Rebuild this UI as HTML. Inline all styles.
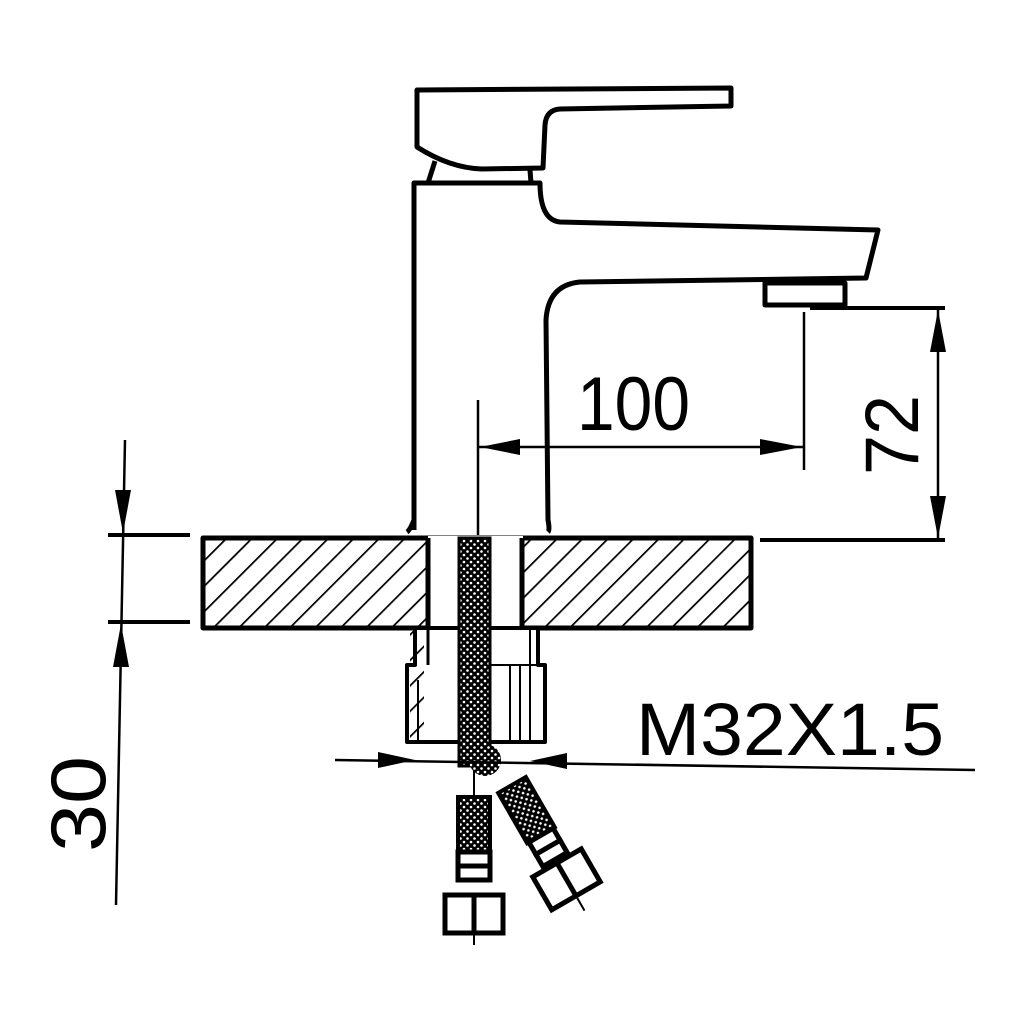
<!DOCTYPE html>
<html><head><style>html,body{margin:0;padding:0;background:#fff}svg{display:block}</style></head>
<body>
<svg width="1024" height="1024" viewBox="0 0 1024 1024" xmlns="http://www.w3.org/2000/svg">
<defs>
<pattern id="hatch" patternUnits="userSpaceOnUse" width="18" height="18" patternTransform="rotate(45)">
<line x1="0" y1="0" x2="0" y2="18" stroke="#000" stroke-width="3.5"/>
</pattern>
<pattern id="dots" patternUnits="userSpaceOnUse" width="7" height="7">
<rect width="7" height="7" fill="#000"/><circle cx="2" cy="2" r="1.3" fill="#fff"/><circle cx="5.5" cy="5.5" r="1.3" fill="#fff"/>
</pattern>
</defs>
<g fill="none" stroke="#000" stroke-width="5" stroke-linejoin="round">
<path d="M417,90 L731,88 L731,106 L560,109 Q546,110 545,125 L543,168 L482,169 Q450,168 417,147 Z" fill="#fff"/>
<path d="M428,183 L435,161 M530,170 L531,183"/>
<path d="M414,530 L414,183 L540,183 Q540,220 560,222 L878,230 L866,278 L580,282 Q548,285 546,320 L548,520 Q550,530 548,532"/>
<path d="M414,520 Q410,530 407,532"/>
<rect x="765" y="283" width="80" height="22" fill="#fff"/>
<rect x="203" y="538" width="548" height="90" fill="url(#hatch)"/>
<rect x="428" y="536" width="95" height="94" fill="#fff" stroke="none"/>
<path d="M428,538 L428,628 M522,538 L522,628"/>
<path d="M415,628 L415,665 L407,665 L407,742 L545,742 L545,665 L538,665 L538,628 Z" fill="#fff" stroke-width="4"/>
<path d="M428,628 L428,665" stroke-width="3"/>
<rect x="410" y="630" width="14" height="110" fill="url(#hatch)" stroke="none"/>
<path d="M480,665 L545,665 M510,665 L510,742 M520,665 L520,742 M530,630 L530,742 M418,680 L418,742" stroke-width="2"/>
</g>
<rect x="459" y="538" width="31" height="228" fill="url(#dots)" stroke="#000" stroke-width="3"/>
<circle cx="485" cy="760" r="16" fill="url(#dots)"/>
<rect x="458" y="797" width="32" height="55" fill="url(#dots)" stroke="#000" stroke-width="4"/>
<g fill="#fff" stroke="#000" stroke-width="5">
<rect x="458" y="852" width="32" height="14"/>
<rect x="458" y="866" width="32" height="14"/>
<rect x="445" y="895" width="58" height="38"/>
<line x1="474" y1="895" x2="474" y2="933"/>
</g>
<line x1="474" y1="933" x2="474" y2="945" stroke="#000" stroke-width="2"/>
<line x1="474" y1="770" x2="474" y2="797" stroke="#000" stroke-width="2"/>
<g transform="translate(512,785) rotate(-30)">
<rect x="-16" y="0" width="32" height="58" fill="url(#dots)" stroke="#000" stroke-width="4"/>
<g fill="#fff" stroke="#000" stroke-width="5">
<rect x="-14" y="58" width="28" height="14"/>
<rect x="-14" y="72" width="28" height="14"/>
<rect x="-28" y="90" width="56" height="38"/>
<line x1="0" y1="90" x2="0" y2="128"/>
</g>
<line x1="0" y1="128" x2="0" y2="145" stroke="#000" stroke-width="2"/>
</g>
<g stroke="#000" stroke-width="2.5" fill="none">
<line x1="478" y1="400" x2="478" y2="535"/>
<line x1="804" y1="312" x2="804" y2="470"/>
<line x1="478" y1="447" x2="804" y2="447"/>
<line x1="810" y1="308" x2="945" y2="308" stroke-width="4"/>
<line x1="760" y1="540" x2="945" y2="540" stroke-width="4"/>
<line x1="938" y1="308" x2="938" y2="540"/>
<line x1="125" y1="440" x2="116" y2="905"/>
<line x1="108" y1="535" x2="190" y2="535" stroke-width="4"/>
<line x1="108" y1="622" x2="190" y2="622" stroke-width="4"/>
<line x1="335" y1="760" x2="975" y2="770"/>
</g>
<g fill="#000">
<polygon points="480,447 520,439 520,455"/>
<polygon points="802,447 760,439 760,455"/>
<polygon points="938,310 930,352 946,352"/>
<polygon points="938,538 930,496 946,496"/>
<polygon points="123,533 115,490 131,490"/>
<polygon points="121,624 113,667 129,667"/>
<polygon points="415,760 378,752 378,768"/>
<polygon points="530,761 567,753 567,769"/>
</g>
<g font-family="Liberation Sans, sans-serif" fill="#000">
<text x="577" y="430" font-size="76" textLength="113" lengthAdjust="spacingAndGlyphs">100</text>
<text x="636" y="755" font-size="74" textLength="308" lengthAdjust="spacingAndGlyphs">M32X1.5</text>
<text transform="translate(918,475) rotate(-90)" font-size="76" textLength="80" lengthAdjust="spacingAndGlyphs">72</text>
<text transform="translate(105,852) rotate(-90)" font-size="78" textLength="96" lengthAdjust="spacingAndGlyphs">30</text>
</g>
</svg>
</body></html>
